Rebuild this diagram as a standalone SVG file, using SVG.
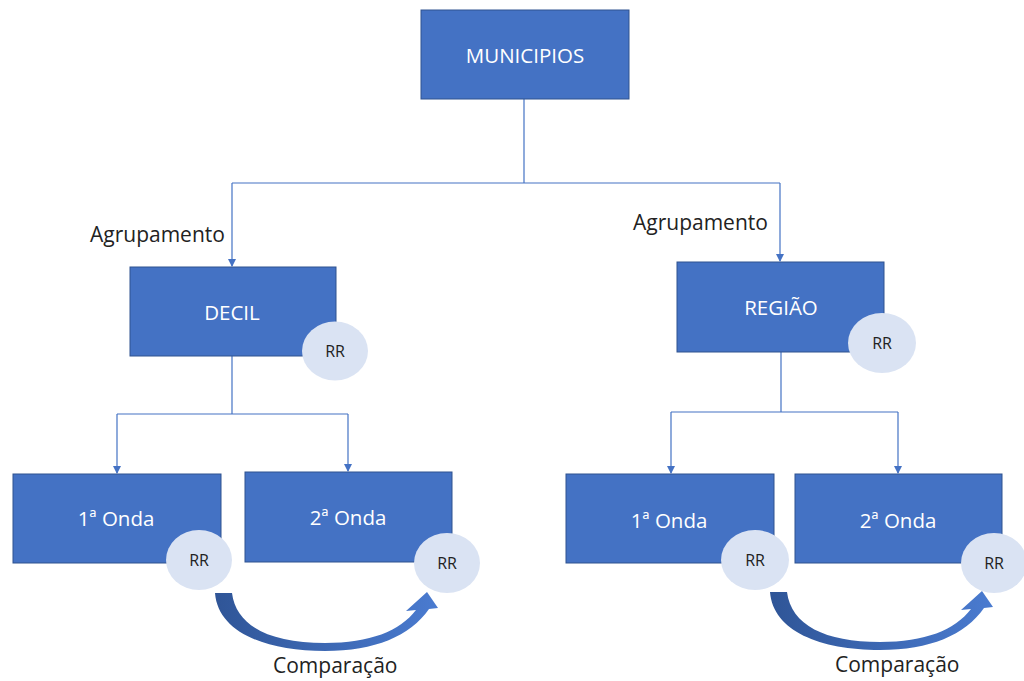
<svg xmlns="http://www.w3.org/2000/svg" width="1024" height="681" viewBox="0 0 1024 681">
<style>
.box{fill:#4472C4;stroke:#2F528F;stroke-width:1}
.bt{fill:#fff;font-family:"Open Sans",sans-serif;font-size:20.5px;text-anchor:middle;dominant-baseline:central}
.rr{fill:#DAE3F3}
.rt{fill:#222;font-family:"Open Sans",sans-serif;font-size:16px;text-anchor:middle;dominant-baseline:central}
.lb{fill:#222;font-family:"Open Sans",sans-serif;font-size:21px}
.ln{fill:none;stroke:#4472C4;stroke-width:1.2}
</style>
<defs>
<marker id="ah" markerWidth="8" markerHeight="8" refX="7" refY="4" orient="auto" markerUnits="userSpaceOnUse">
<path d="M0,0 L8,4 L0,8 Z" fill="#4472C4"/>
</marker>
<linearGradient id="cg" x1="0" y1="0" x2="1" y2="0">
<stop offset="0" stop-color="#2F5597"/>
<stop offset="1" stop-color="#4A7BD0"/>
</linearGradient>
<path id="carrow" d="M215,593 C218,632 265,651 325,651 C375,651 410,636 429,609 L438,608 L427,592 L406,611 L416,610 C400,631 370,643 325,643 C270,643 236,626 232,593 Z"/>
</defs>
<rect width="1024" height="681" fill="#fff"/>
<g id="connectors">
<path class="ln" d="M524,99 V183"/>
<path class="ln" d="M232,183 H780"/>
<path class="ln" d="M232,183 V266" marker-end="url(#ah)"/>
<path class="ln" d="M780,183 V261" marker-end="url(#ah)"/>
<path class="ln" d="M232,356 V414"/>
<path class="ln" d="M117,414 H348"/>
<path class="ln" d="M117,414 V473" marker-end="url(#ah)"/>
<path class="ln" d="M348,414 V471" marker-end="url(#ah)"/>
<path class="ln" d="M781,352 V412"/>
<path class="ln" d="M671,412 H898"/>
<path class="ln" d="M671,412 V473" marker-end="url(#ah)"/>
<path class="ln" d="M898,412 V473" marker-end="url(#ah)"/>
<use href="#carrow" fill="url(#cg)"/>
<use href="#carrow" fill="url(#cg)" transform="translate(555,-1)"/>
</g>
<g id="municipios"><rect class="box" x="421" y="10" width="208" height="89"/><text class="bt" x="525" y="55">MUNICIPIOS</text></g>
<g id="lbl-agrup-1"><text class="lb" x="90" y="242">Agrupamento</text></g>
<g id="lbl-agrup-2"><text class="lb" x="633" y="230">Agrupamento</text></g>
<g id="decil"><rect class="box" x="130" y="267" width="206" height="89"/><text class="bt" x="232" y="312">DECIL</text><ellipse class="rr" cx="335" cy="351" rx="33" ry="29.5"/><text class="rt" x="335" y="351">RR</text></g>
<g id="regiao"><rect class="box" x="677" y="262" width="207" height="90"/><text class="bt" x="781" y="307">REGIÃO</text><ellipse class="rr" cx="882" cy="343" rx="34" ry="30"/><text class="rt" x="882" y="343">RR</text></g>
<g id="onda1-decil"><rect class="box" x="13" y="474" width="208" height="89"/><text class="bt" x="116" y="518">1ª Onda</text><ellipse class="rr" cx="199" cy="560" rx="33" ry="30"/><text class="rt" x="199" y="560">RR</text></g>
<g id="onda2-decil"><rect class="box" x="245" y="472" width="207" height="90"/><text class="bt" x="348" y="517">2ª Onda</text><ellipse class="rr" cx="447" cy="563" rx="33" ry="30"/><text class="rt" x="447" y="563">RR</text></g>
<g id="onda1-regiao"><rect class="box" x="566" y="474" width="208" height="89"/><text class="bt" x="669" y="520">1ª Onda</text><ellipse class="rr" cx="755" cy="560" rx="34" ry="30"/><text class="rt" x="755" y="560">RR</text></g>
<g id="onda2-regiao"><rect class="box" x="795" y="474" width="207" height="89"/><text class="bt" x="898" y="520">2ª Onda</text><ellipse class="rr" cx="994" cy="563" rx="33" ry="30"/><text class="rt" x="994" y="563">RR</text></g>
<g id="lbl-comp-1"><text class="lb" x="273" y="673">Comparação</text></g>
<g id="lbl-comp-2"><text class="lb" x="835" y="672">Comparação</text></g>
</svg>
